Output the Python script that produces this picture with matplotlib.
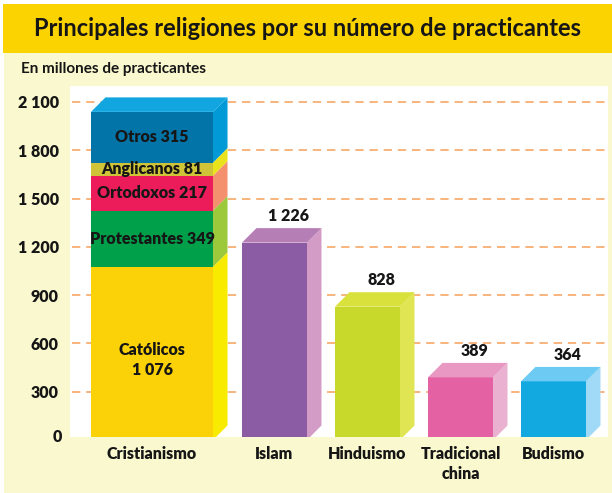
import matplotlib
matplotlib.use("Agg")
import matplotlib.pyplot as plt
from matplotlib.patches import Rectangle, Polygon
import matplotlib.transforms as mtransforms

# ---------------- data ----------------
categories = ["Cristianismo", "Islam", "Hinduismo", "Tradicional\nchina", "Budismo"]
values = [2038, 1226, 828, 389, 364]
value_labels = ["", "1 226", "828", "389", "364"]

christ_segments = ["Católicos\n1 076", "Protestantes 349", "Ortodoxos 217", "Anglicanos 81", "Otros 315"]
christ_values = [1076, 349, 217, 81, 315]

yticks = [300, 600, 900, 1200, 1500, 1800, 2100]
ytick_labels = ["300", "600", "900", "1 200", "1 500", "1 800", "2 100"]

title = "Principales religiones por su número de practicantes"
subtitle = "En millones de practicantes"

# ---------------- styles ----------------
seg_front = ["#FBD107", "#00A04A", "#EC1C5A", "#CFC337", "#0274A8"]
seg_side = ["#F8EB00", "#9CC83C", "#F4906E", "#EAE31C", "#0199D6"]
seg_top = "#12A6E0"
front_cols = [None, "#8B5BA3", "#C8D92C", "#E462A3", "#12A8E0"]
side_cols = [None, "#D39CC6", "#E0E554", "#EBB1D0", "#A0DAF7"]
top_cols = [None, "#B57FB6", "#D9E23C", "#E898C3", "#6CCAF3"]

positions = [0, 1.317, 2.317, 3.317, 4.317]
widths = [1.312, 0.699, 0.699, 0.699, 0.699]
DX = 0.156
DY = 90

FONT = "Lato"
WT = "heavy"
TXT = "#161616"

W, H = 612, 493
fig = plt.figure(figsize=(W / 100, H / 100), dpi=100)
fig.patch.set_facecolor("white")

def fx(px):
    return px / W

def fy(py):
    return 1 - py / H

# cream background and title bar
fig.patches.append(Rectangle((fx(4), 0), 1 - fx(4), fy(52), transform=fig.transFigure,
                             facecolor="#FAF8CE", edgecolor="none", zorder=-5))
fig.patches.append(Rectangle((fx(3), fy(52.5)), 1 - fx(3), fy(4) - fy(52.5), transform=fig.transFigure,
                             facecolor="#FBD300", edgecolor="none", zorder=-5))
fig.text(fx(308), fy(29), title, ha="center", va="center", fontsize=17,
         fontweight="bold", family=FONT, color=TXT)
fig.text(fx(21), fy(69), subtitle, ha="left", va="center", fontsize=11,
         fontweight="bold", family=FONT, color=TXT)

ax_l, ax_r, ax_t, ax_b = 70, 608, 86, 436.7
ax = fig.add_axes([fx(ax_l), fy(ax_b), (ax_r - ax_l) / W, (ax_b - ax_t) / H])
ax.set_zorder(2)
ax.set_facecolor("white")
ppu = 0.161
ylo = (440 - ax_b) / ppu
yhi = (440 - ax_t) / ppu
ax.set_ylim(ylo, yhi)
ax.set_xlim((ax_l - 152) / 93, (ax_r - 152) / 93)
for s in ax.spines.values():
    s.set_visible(False)
ax.set_xticks([])
ax.set_yticks(yticks)
ax.set_yticklabels(ytick_labels, family=FONT, fontweight=WT, fontsize=11.5, color=TXT)
ax.tick_params(axis="y", length=0, pad=8)
ax.text(-8 / (ax_r - ax_l), 0, "0", transform=ax.transAxes, ha="right", va="center",
        family=FONT, fontweight=WT, fontsize=11.5, color=TXT)

# gridlines
for yt in yticks:
    ax.axhline(yt, xmin=2 / (ax_r - ax_l), xmax=1, color="#F6A866", lw=1.2,
               dashes=(5, 3.5), zorder=1)

def side_poly(xr, y0, y1, color, z=3):
    p = Polygon([(xr, y0), (xr + DX, y0 + DY), (xr + DX, y1 + DY), (xr, y1)],
                closed=True, facecolor=color, edgecolor="none", zorder=z)
    ax.add_patch(p)

def top_poly(xl, xr, y, color, z=3):
    p = Polygon([(xl, y), (xl + DX, y + DY), (xr + DX, y + DY), (xr, y)],
                closed=True, facecolor=color, edgecolor="none", zorder=z)
    ax.add_patch(p)

# Cristianismo stacked
x0, w0 = positions[0], widths[0]
bottom = 0
for lab, v, fc, sc in zip(christ_segments, christ_values, seg_front, seg_side):
    ax.bar(x0, v, w0, bottom=bottom, color=fc, edgecolor="none", zorder=3)
    side_poly(x0 + w0 / 2, bottom, bottom + v, sc)
    ymid = bottom + v / 2
    if lab.startswith("Cat"):
        ymid = bottom + v / 2 - 40
    ax.text(x0, ymid, lab, ha="center", va="center", family=FONT, fontweight=WT,
            fontsize=11.5, color=TXT, zorder=5, linespacing=1.3)
    bottom += v
top_poly(x0 - w0 / 2, x0 + w0 / 2, bottom, seg_top)

# other bars
for i in range(1, len(categories)):
    x, w, v = positions[i], widths[i], values[i]
    ax.bar(x, v, w, color=front_cols[i], edgecolor="none", zorder=3)
    side_poly(x + w / 2, 0, v, side_cols[i])
    top_poly(x - w / 2, x + w / 2, v, top_cols[i])
    ax.text(x + 0.15, v + DY + 25, value_labels[i], ha="center", va="bottom",
            family=FONT, fontweight=WT, fontsize=11.5, color=TXT, zorder=5)

# category labels
trans = mtransforms.blended_transform_factory(ax.transData, ax.transAxes)
for x, c in zip(positions, categories):
    ax.text(x, -(446 - ax_b) / (ax_b - ax_t), c, transform=trans, ha="center", va="top",
            family=FONT, fontweight=WT, fontsize=11.5, color=TXT, linespacing=1.3,
            clip_on=False)

fig.savefig("out.png", dpi=100)
